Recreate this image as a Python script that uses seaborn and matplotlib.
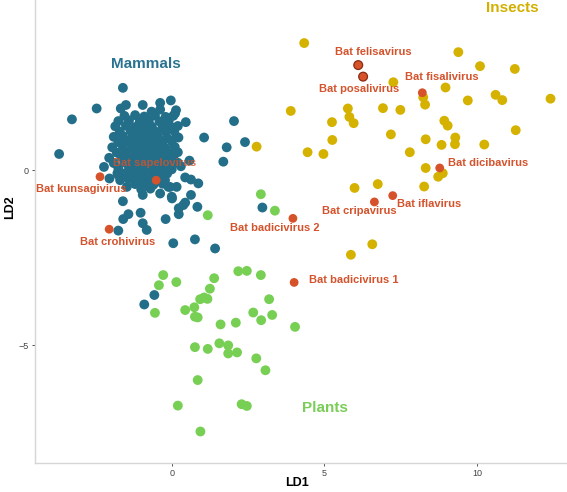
import numpy as np
import pandas as pd
import matplotlib
matplotlib.use("Agg")
import matplotlib.pyplot as plt
import seaborn as sns

# ---------------- data (LD1, LD2) ----------------
mammals_ld1 = [
    -1.60, -2.46, -3.27, -3.69, -0.03, -0.38, -0.95, -0.66, -0.38, -1.50, -1.67, 0.14, 0.11, 0.46,
    -0.25, 2.04, 2.40, 1.80, 1.06, 0.22, 0.08, 1.69, 0.58, 0.30, -2.22, -2.04, -1.78, -1.69, -1.42,
    0.44, 0.63, 0.87, -0.06, -0.38, -0.95, -1.47, -1.60, 0.63, 0.01, 0.44, 0.84, 0.23, 0.23, -1.42,
    -1.59, -1.02, -0.20, -0.95, -0.82, -1.75, 0.05, 0.76, 1.42, 2.97, -0.57, -0.90, -1.75, -1.09,
    -0.22, -0.11, 0.16, 0.00, 0.38,
    # dense core
    -1.55, -1.20, -0.90, -0.55, -0.20, 0.05,
    -1.75, -1.40, -1.05, -0.75, -0.40, -0.10,
    -1.85, -1.50, -1.20, -0.95, -0.65, -0.30, 0.00, 0.20,
    -1.70, -1.35, -1.10, -0.80, -0.50, -0.20,
    -1.90, -1.60, -1.30, -1.00, -0.70, -0.45, -0.15, 0.15,
    -1.75, -1.45, -1.15, -0.85, -0.60, -0.30, 0.00,
    -1.95, -1.60, -1.30, -1.05, -0.75, -0.50, -0.20, 0.10,
    -1.80, -1.50, -1.20, -0.90, -0.65, -0.35, -0.05, 0.20,
    -2.05, -1.65, -1.35, -1.10, -0.80, -0.50, -0.25, 0.05,
    -1.90, -1.55, -1.25, -0.95, -0.70, -0.40, -0.10, 0.20,
    -1.75, -1.40, -1.10, -0.85, -0.55, -0.30, 0.00,
    -1.55, -1.25, -0.95, -0.65, -0.40, -0.15,
    -1.30, -1.05, -0.75, -0.50,
    -1.20, -0.90, -0.60, -0.30,
    -1.00, -0.70,
]
mammals_ld2 = [
    2.35, 1.76, 1.45, 0.46, 1.99, 1.92, 1.86, 1.67, 1.73, 1.86, 1.76, 1.71, 1.62, 1.37,
    1.33, 1.40, 0.80, 0.65, 0.93, 0.93, 1.12, 0.24, 0.27, 0.11, 0.09, -0.24, -0.09, -0.29, -0.24,
    -0.21, -0.27, -0.38, -0.48, -0.67, -0.71, -0.48, -0.89, -0.71, -0.81, -0.93, -1.05, -1.09, -1.26, -1.26,
    -1.40, -1.22, -1.40, -1.52, -1.71, -1.73, -2.09, -1.98, -2.24, -1.07, -3.57, -3.84, -0.14, -0.24,
    -0.29, -0.48, -0.48, -0.76, -1.00,
    1.55, 1.57, 1.53, 1.56, 1.52, 1.55,
    1.40, 1.42, 1.38, 1.41, 1.39, 1.40,
    1.25, 1.27, 1.23, 1.26, 1.24, 1.25, 1.22, 1.26,
    1.10, 1.12, 1.08, 1.11, 1.09, 1.10,
    0.95, 0.97, 0.93, 0.96, 0.94, 0.95, 0.92, 0.96,
    0.80, 0.82, 0.78, 0.81, 0.79, 0.80, 0.82,
    0.65, 0.67, 0.63, 0.66, 0.64, 0.65, 0.62, 0.66,
    0.50, 0.52, 0.48, 0.51, 0.49, 0.50, 0.47, 0.51,
    0.35, 0.37, 0.33, 0.36, 0.34, 0.35, 0.32, 0.36,
    0.20, 0.22, 0.18, 0.21, 0.19, 0.20, 0.17, 0.21,
    0.05, 0.07, 0.03, 0.06, 0.04, 0.05, 0.02,
    -0.10, -0.08, -0.12, -0.09, -0.11, -0.10,
    -0.25, -0.23, -0.27, -0.24,
    -0.40, -0.38, -0.42, -0.39,
    -0.55, -0.53,
]

insects_ld1 = [4.34, 9.39, 10.10, 11.24, 7.26, 8.97, 8.24, 8.30, 9.70, 10.61, 10.83, 12.41, 3.90, 5.77,
               5.82, 5.96, 6.92, 7.49, 5.25, 8.93, 9.04, 11.27, 7.18, 5.26, 8.32, 9.29, 9.28, 8.84,
               10.24, 2.78, 4.45, 4.97, 7.80, 8.32, 8.73, 8.88, 5.99, 6.75, 8.27, 6.57, 5.87]
insects_ld2 = [3.63, 3.37, 2.97, 2.89, 2.51, 2.36, 2.08, 1.87, 1.99, 2.15, 2.00, 2.04, 1.69, 1.76,
               1.52, 1.34, 1.77, 1.72, 1.37, 1.41, 1.27, 1.14, 1.02, 0.86, 0.88, 0.93, 0.74, 0.72,
               0.73, 0.67, 0.51, 0.46, 0.51, 0.06, -0.19, -0.09, -0.51, -0.40, -0.47, -2.12, -2.42]

plants_ld1 = [2.92, 3.38, 1.18, -0.28, -0.42, 0.15, 1.39, 1.25, 2.18, 2.46, 2.92, 0.93, 1.06, 1.17,
              3.19, -0.55, 0.44, 0.74, 0.76, 0.85, 2.67, 3.29, 2.93, 1.60, 2.10, 4.04, 0.76, 1.18,
              1.56, 1.85, 1.85, 2.14, 2.77, 3.07, 0.85, 0.20, 2.29, 2.46, 0.94]
plants_ld2 = [-0.69, -1.16, -1.29, -3.00, -3.29, -3.20, -3.09, -3.39, -2.89, -2.88, -3.00, -3.69, -3.64,
              -3.68, -3.69, -4.08, -4.00, -3.92, -4.19, -4.21, -4.07, -4.14, -4.29, -4.41, -4.36, -4.48,
              -5.06, -5.11, -4.95, -5.01, -5.24, -5.21, -5.38, -5.72, -6.00, -6.73, -6.69, -6.74, -7.47]

bat_names = ["Bat felisavirus", "Bat posalivirus", "Bat fisalivirus", "Bat dicibavirus",
             "Bat iflavirus", "Bat cripavirus", "Bat badicivirus 2", "Bat badicivirus 1",
             "Bat sapelovirus", "Bat kunsagivirus", "Bat crohivirus"]
bat_ld1 = [6.11, 6.27, 8.21, 8.78, 7.24, 6.64, 3.97, 4.01, -0.51, -2.35, -2.05]
bat_ld2 = [3.00, 2.67, 2.21, 0.06, -0.73, -0.91, -1.38, -3.21, -0.29, -0.19, -1.69]
# label anchor positions (data units) and alignment
bat_lab_x = [6.60, 6.14, 8.86, 9.06, 7.39, 6.13, 3.38, 4.49, -0.55, -2.98, -1.77]
bat_lab_y = [3.36, 2.31, 2.67, 0.21, -0.97, -1.17, -1.65, -3.14, 0.21, -0.54, -2.05]
bat_lab_ha = ["center", "center", "center", "left", "left", "center", "center", "left",
              "center", "center", "center"]

group_names = ["Mammals", "Insects", "Plants"]
group_lab_x = [-0.84, 11.15, 5.02]
group_lab_y = [3.03, 4.63, -6.80]

x_ticks = [0, 5, 10]
y_ticks = [-5, 0]

# ---------------- styling ----------------
col = {"Mammals": "#236e89", "Insects": "#d5b200", "Plants": "#77cf54", "Bat": "#d6522b"}
txt_col = {"Mammals": "#2a7390", "Insects": "#d2b000", "Plants": "#7acd58"}

sns.set_theme(style="white")
plt.rcParams["font.family"] = ["Liberation Sans", "DejaVu Sans"]

df = pd.concat([
    pd.DataFrame({"LD1": plants_ld1, "LD2": plants_ld2, "group": "Plants"}),
    pd.DataFrame({"LD1": insects_ld1, "LD2": insects_ld2, "group": "Insects"}),
    pd.DataFrame({"LD1": mammals_ld1, "LD2": mammals_ld2, "group": "Mammals"}),
], ignore_index=True)
bats = pd.DataFrame({"LD1": bat_ld1, "LD2": bat_ld2, "name": bat_names})

fig = plt.figure(figsize=(5.67, 4.92), dpi=100)
ax = fig.add_axes([35 / 567, 29 / 492, 532 / 567, 463 / 492])

sns.scatterplot(data=df, x="LD1", y="LD2", hue="group", palette=col, s=50,
                linewidth=0, legend=False, ax=ax, zorder=3)

edge = ["#8a2a10" if n in ("Bat felisavirus", "Bat posalivirus") else "none" for n in bat_names]
lw = [0.9 if n in ("Bat felisavirus", "Bat posalivirus") else 0 for n in bat_names]
sns.scatterplot(data=bats, x="LD1", y="LD2", color=col["Bat"], s=40, ax=ax,
                legend=False, zorder=4, edgecolor=edge, linewidth=lw)

for n, x, y, ha in zip(bat_names, bat_lab_x, bat_lab_y, bat_lab_ha):
    a = 0.8 if n == "Bat sapelovirus" else 1.0
    ax.text(x, y, n, color="#d4532c", fontsize=8, fontweight="bold", ha=ha, va="center",
            zorder=5, alpha=a)

for g, x, y in zip(group_names, group_lab_x, group_lab_y):
    ax.text(x, y, g, color=txt_col[g], fontsize=11, fontweight="bold", ha="center",
            va="center", zorder=6)

ax.set_xlim(-4.48, 12.95)
ax.set_ylim(-8.37, 4.86)
ax.set_xticks(x_ticks)
ax.set_yticks(y_ticks)
ax.set_xticklabels([str(t) for t in x_ticks])
ax.set_yticklabels(["\u22125", "0"])
ax.tick_params(axis="both", which="both", direction="out", length=2.5, width=0.7,
               colors="#555555", labelsize=6.5, pad=2, bottom=True, left=True)
ax.tick_params(axis="both", labelcolor="#444444")

for s in ["top", "right"]:
    ax.spines[s].set_visible(False)
for s in ["left", "bottom"]:
    ax.spines[s].set_color("#d6d6d6")
    ax.spines[s].set_linewidth(1.0)

ax.set_xlabel("LD1", fontsize=9, fontweight="bold", color="black")
ax.set_ylabel("LD2", fontsize=9, fontweight="bold", color="black")
ax.xaxis.label.set_va("center")
ax.yaxis.label.set_va("center")
ax.xaxis.set_label_coords(0.4925, -0.043)
ax.yaxis.set_label_coords(-0.047, 0.553)

fig.savefig("out.png", dpi=100)
